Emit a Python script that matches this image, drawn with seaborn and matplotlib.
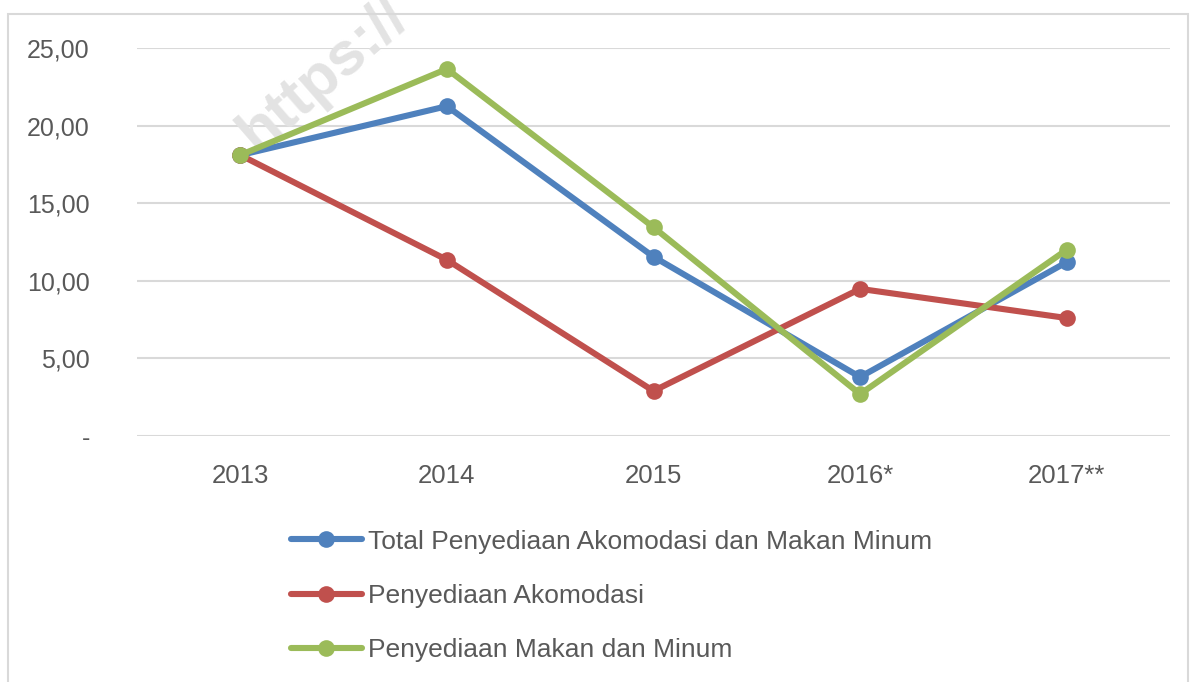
import numpy as np
import pandas as pd
import matplotlib
matplotlib.use("Agg")
import matplotlib.pyplot as plt
from matplotlib.patches import Rectangle
from matplotlib.ticker import FuncFormatter
import seaborn as sns

# data
years = ["2013", "2014", "2015", "2016*", "2017**"]
total = [18.10, 21.25, 11.55, 3.80, 11.20]
akomodasi = [18.10, 11.35, 2.90, 9.48, 7.60]
makan_minum = [18.10, 23.65, 13.45, 2.70, 12.00]

series_names = [
    "Total Penyediaan Akomodasi dan Makan Minum",
    "Penyediaan Akomodasi",
    "Penyediaan Makan dan Minum",
]
colors = ["#4F81BD", "#C0504D", "#9BBB59"]

df = pd.DataFrame({
    "tahun": years * 3,
    "nilai": total + akomodasi + makan_minum,
    "seri": [s for s in series_names for _ in years],
})

sns.set_style("white")
plt.rcParams["font.family"] = ["Liberation Sans", "DejaVu Sans"]

fig = plt.figure(figsize=(11.9, 6.82), dpi=100)
ax = fig.add_axes([137 / 1190, 1 - 436 / 682, (1170 - 137) / 1190, (436 - 48) / 682])
ax.patch.set_visible(False)

sns.lineplot(
    data=df, x="tahun", y="nilai", hue="seri", hue_order=series_names,
    palette=colors, marker="o", markersize=12, markeredgewidth=0,
    linewidth=4.4, sort=False, ax=ax, legend=False,
)

ax.set_xlim(-0.5, 4.5)
ax.set_ylim(0, 25)
ax.set_yticks([0, 5, 10, 15, 20, 25])
ax.yaxis.set_major_formatter(FuncFormatter(
    lambda v, p: "-" if v == 0 else f"{v:.2f}".replace(".", ",")))
ax.grid(axis="y", color="#d9d9d9", linewidth=1.5)
ax.grid(axis="x", visible=False)
ax.set_axisbelow(True)
for s in ax.spines.values():
    s.set_visible(False)
ax.tick_params(axis="y", length=0, pad=34, labelsize=18, labelcolor="#595959")
ax.tick_params(axis="x", length=0, pad=20, labelsize=18.5, labelcolor="#595959")
ax.set_xlabel("")
ax.set_ylabel("")

# faint watermark behind the lines
ax.text(228 / 1190, 1 - 150 / 682, "https://", transform=fig.transFigure,
        rotation=41, fontsize=44, fontweight="bold", color="#e3e3e3",
        ha="left", va="baseline", zorder=1, clip_on=False)

# legend below the plot
handles = [plt.Line2D([], [], color=c, linewidth=4.4, marker="o", markersize=12,
                      markeredgewidth=0) for c in colors]
fig.legend(handles, series_names, loc="upper left",
           bbox_to_anchor=(280 / 1190, 1 - 519 / 682), frameon=False,
           fontsize=19, labelcolor="#595959", handlelength=2.7,
           handletextpad=0.25, labelspacing=1.15, borderaxespad=0)

# chart border
fig.patches.append(Rectangle((8 / 1190, -0.02), (1188 - 8) / 1190, 1.02 - 14 / 682,
                             transform=fig.transFigure, fill=False,
                             edgecolor="#d9d9d9", linewidth=1.5))

fig.savefig("out.png", dpi=100)
